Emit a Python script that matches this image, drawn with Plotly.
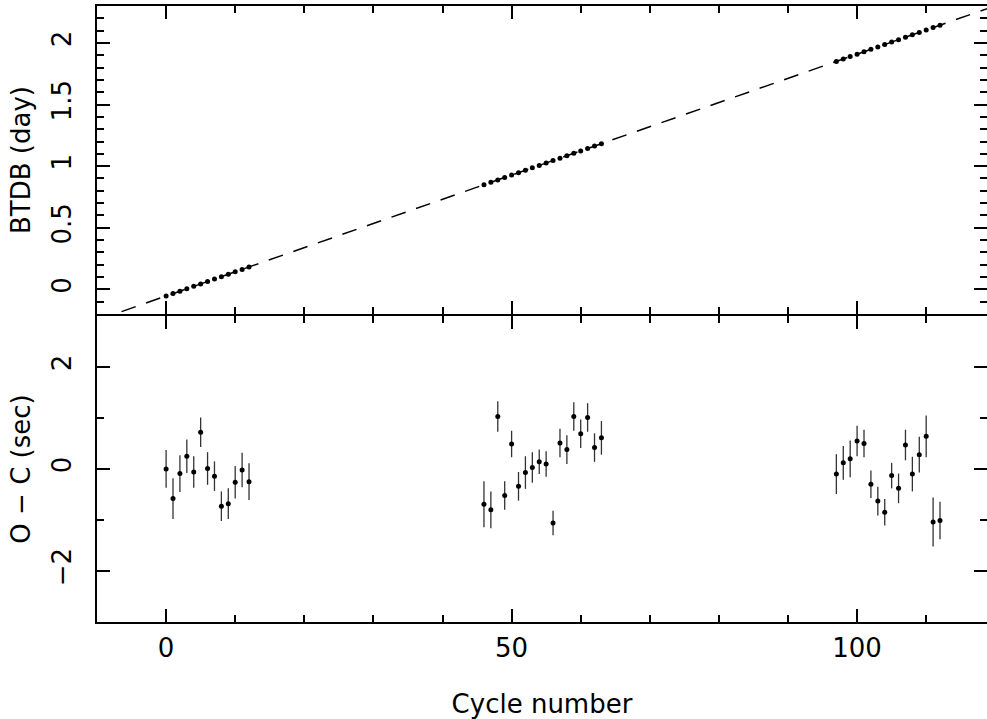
import plotly.graph_objects as go

# ---- data ----
cycles = [0, 1, 2, 3, 4, 5, 6, 7, 8, 9, 10, 11, 12,
          46, 47, 48, 49, 50, 51, 52, 53, 54, 55, 56, 57, 58, 59, 60, 61, 62, 63,
          97, 98, 99, 100, 101, 102, 103, 104, 105, 106, 107, 108, 109, 110, 111, 112]

btdb_day = [-0.0540, -0.0344, -0.0147, 0.0049, 0.0245, 0.0442, 0.0638, 0.0834, 0.1030,
            0.1227, 0.1423, 0.1619, 0.1816,
            0.8490, 0.8686, 0.8882, 0.9079, 0.9275, 0.9471, 0.9668, 0.9864, 1.0060,
            1.0257, 1.0453, 1.0649, 1.0845, 1.1042, 1.1238, 1.1434, 1.1631, 1.1827,
            1.8501, 1.8697, 1.8894, 1.9090, 1.9286, 1.9483, 1.9679, 1.9875, 2.0072,
            2.0268, 2.0464, 2.0660, 2.0857, 2.1053, 2.1249, 2.1446]

o_minus_c_sec = [0.00, -0.58, -0.09, 0.25, -0.06, 0.72, 0.01, -0.14, -0.73, -0.68, -0.26, -0.02, -0.25,
                 -0.69, -0.80, 1.03, -0.52, 0.49, -0.34, -0.07, 0.03, 0.14, 0.10, -1.06, 0.51,
                 0.38, 1.03, 0.69, 1.01, 0.42, 0.61,
                 -0.10, 0.12, 0.20, 0.55, 0.50, -0.30, -0.63, -0.85, -0.13, -0.38, 0.47,
                 -0.10, 0.28, 0.64, -1.04, -1.01]

o_minus_c_err = [0.37, 0.40, 0.36, 0.33, 0.31, 0.29, 0.32, 0.29, 0.29, 0.30, 0.32, 0.34, 0.36,
                 0.45, 0.36, 0.30, 0.28, 0.26, 0.28, 0.32, 0.30, 0.24, 0.25, 0.24, 0.28,
                 0.28, 0.28, 0.28, 0.28, 0.28, 0.33,
                 0.39, 0.33, 0.36, 0.30, 0.27, 0.27, 0.28, 0.26, 0.25, 0.29, 0.30,
                 0.34, 0.35, 0.41, 0.48, 0.37]

# linear ephemeris (fit line)
ephem_T0 = -0.054     # day
ephem_P = 0.01963     # day / cycle
line_cycles = [-10, 120]
line_btdb = [ephem_T0 + ephem_P * c for c in line_cycles]

FONT = "DejaVu Sans"
FS = 26

fig = go.Figure()

fig.add_trace(go.Scatter(x=line_cycles, y=line_btdb, mode="lines",
                         line=dict(color="black", width=1.5, dash="15px,11px"),
                         xaxis="x", yaxis="y", showlegend=False, hoverinfo="skip"))
fig.add_trace(go.Scatter(x=cycles, y=btdb_day, mode="markers",
                         marker=dict(color="black", size=5),
                         xaxis="x", yaxis="y", showlegend=False))
fig.add_trace(go.Scatter(x=cycles, y=o_minus_c_sec, mode="markers",
                         marker=dict(color="black", size=5),
                         error_y=dict(type="data", array=o_minus_c_err, visible=True,
                                      color="#333333", thickness=1.3, width=0),
                         xaxis="x2", yaxis="y2", showlegend=False))

common_axis = dict(showline=True, linecolor="black", linewidth=2, mirror="allticks",
                   ticks="inside", tickcolor="black", tickwidth=2, ticklen=13,
                   showgrid=False, zeroline=False, automargin=False,
                   tickfont=dict(family=FONT, size=FS, color="black"))

minor_style = dict(ticks="inside", ticklen=7, tickwidth=2, tickcolor="black")

xrange = [-10, 118.8]

fig.update_layout(
    width=987, height=719,
    margin=dict(l=97, r=0, t=6, b=97),
    paper_bgcolor="white", plot_bgcolor="white",
    font=dict(family=FONT, size=FS, color="black"),
    xaxis=dict(common_axis, domain=[0, 1], anchor="y", range=xrange,
               tick0=0, dtick=50, showticklabels=False,
               minor=dict(minor_style, dtick=10, tick0=0)),
    yaxis=dict(common_axis, domain=[0.5, 1], anchor="x", range=[-0.2, 2.3],
               tick0=0, dtick=0.5, tickangle=-90, ticklabelstandoff=14,
               minor=dict(minor_style, dtick=0.1, tick0=0),
               title=dict(text="BTDB (day)", standoff=8, font=dict(family=FONT, size=FS))),
    xaxis2=dict(common_axis, domain=[0, 1], anchor="y2", range=xrange,
                tick0=0, dtick=50, ticklabelstandoff=2,
                minor=dict(minor_style, dtick=10, tick0=0),
                title=dict(text="Cycle number", standoff=50, font=dict(family=FONT, size=FS))),
    yaxis2=dict(common_axis, domain=[0, 0.4968], anchor="x2", range=[-3, 3],
                tick0=0, dtick=2, tickangle=-90, ticklabelstandoff=14,
                minor=dict(minor_style, dtick=1, tick0=-3),
                title=dict(text="O − C (sec)", standoff=8, font=dict(family=FONT, size=FS))),
)

fig.write_html("out.html",
               config={"displayModeBar": False},
               post_script="document.body.style.margin='0';document.body.style.overflow='hidden';")
